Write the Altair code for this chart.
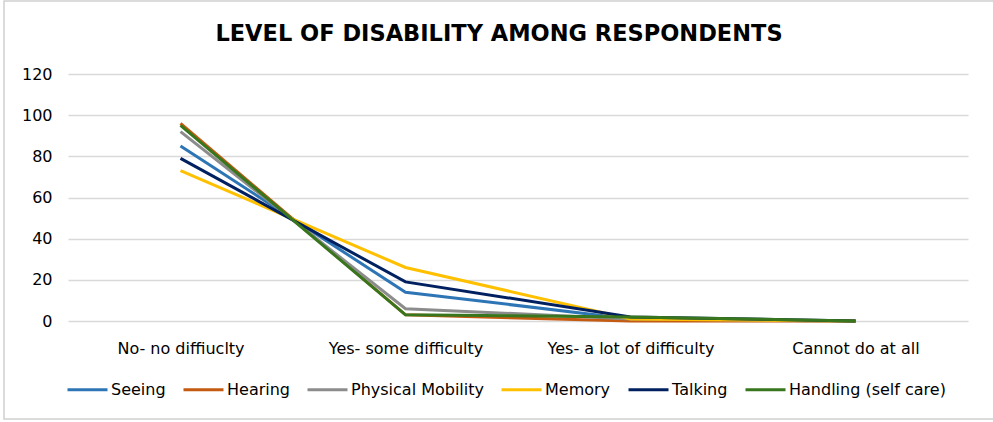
import altair as alt
import pandas as pd

title_text = "LEVEL OF DISABILITY AMONG RESPONDENTS"
categories = ["No- no diffiuclty", "Yes- some difficulty", "Yes- a lot of difficulty", "Cannot do at all"]
series = ["Seeing", "Hearing", "Physical Mobility", "Memory", "Talking", "Handling (self care)"]
colors = ["#2E75B6", "#C55A11", "#8C8C8C", "#FFC000", "#002060", "#38761D"]

seeing = [85, 14, 1, 0]
hearing = [96, 3, 0, 0]
physical = [92, 6, 1, 0]
memory = [73, 26, 1, 0]
talking = [79, 19, 2, 0]
handling = [95, 3, 2, 0]

values = [seeing, hearing, physical, memory, talking, handling]
rows = []
for si, (s, vals) in enumerate(zip(series, values)):
    for ci, (c, v) in enumerate(zip(categories, vals)):
        rows.append({"level": c, "series": s, "value": v, "order": si})
df = pd.DataFrame(rows)

FONT = "DejaVu Sans"

lines = alt.Chart(df).mark_line(strokeWidth=3).encode(
    x=alt.X("level:N", sort=categories, scale=alt.Scale(type="point", padding=0.5),
            axis=alt.Axis(title=None, labelAngle=0, domain=False, ticks=False,
                          labelFontSize=16, labelColor="#000000", labelPadding=19, labelFont=FONT)),
    y=alt.Y("value:Q", scale=alt.Scale(domain=[0, 120]),
            axis=alt.Axis(title=None, values=[0, 20, 40, 60, 80, 100, 120], domain=False, ticks=False,
                          labelFontSize=16, labelColor="#000000", labelPadding=16, labelFont=FONT,
                          gridColor="#D9D9D9", gridWidth=1.5)),
    color=alt.Color("series:N", sort=series, scale=alt.Scale(domain=series, range=colors),
                    legend=alt.Legend(title=None, orient="none", legendX=-2, legendY=294, direction="horizontal",
                                      columns=6, symbolType="stroke", symbolStrokeWidth=3, symbolSize=1600,
                                      labelFontSize=16, labelFont=FONT, labelColor="#000000", columnPadding=11,
                                      labelOffset=2)),
    order=alt.Order("order:Q"),
)

frame = alt.Chart(pd.DataFrame({"k": [0]})).mark_rect(fill=None, stroke="#D0D0D0", strokeWidth=1.5).encode(
    x=alt.value(-64), x2=alt.value(935), y=alt.value(-73), y2=alt.value(345)
)

title = alt.Chart(pd.DataFrame({"t": [title_text]})).mark_text(
    font="DejaVu Sans", fontSize=22.5, fontWeight="bold", color="#000000", align="center", baseline="alphabetic"
).encode(x=alt.value(431), y=alt.value(-33), text="t:N")

chart = alt.layer(frame, lines, title).properties(
    width=900, height=247,
    padding={"left": 68, "top": 74, "right": 25, "bottom": 101},
    autosize="none",
).configure_view(stroke=None)

chart.save("out.html", embed_options={"renderer": "svg", "actions": False})
